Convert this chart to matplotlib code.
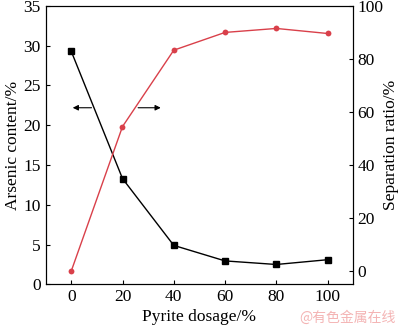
import matplotlib
matplotlib.use('Agg')
import matplotlib.pyplot as plt

plt.rcParams['font.family'] = ['Liberation Serif', 'DejaVu Serif']
plt.rcParams['font.size'] = 12.5

# 数据
dosage = [0, 20, 40, 60, 80, 100]
arsenic = [29.3, 13.3, 4.9, 2.95, 2.5, 3.1]
separation = [0.0, 54.5, 83.3, 90.0, 91.5, 89.6]

fig = plt.figure(figsize=(4.0, 3.28), dpi=100)
ax = fig.add_axes([0.114, 0.133, 0.769, 0.849])
ax2 = ax.twinx()

ax.plot(dosage, arsenic, color='black', lw=1.0, marker='s', ms=4.2, zorder=3)
ax2.plot(dosage, separation, color='#d9404a', lw=1.0, marker='o', ms=4.2,
         markeredgewidth=0, zorder=3)

# 指示箭头
ax.annotate('', xy=(-0.5, 22.2), xytext=(9, 22.2),
            arrowprops=dict(arrowstyle='-|>', color='black', lw=0.8,
                            mutation_scale=8))
ax.annotate('', xy=(36, 22.2), xytext=(25, 22.2),
            arrowprops=dict(arrowstyle='-|>', color='black', lw=0.8,
                            mutation_scale=8))

ax.set_xlim(-10, 110)
ax.set_ylim(0, 35)
ax2.set_ylim(-5, 100)
ax.set_xticks(dosage)
ax.set_yticks(range(0, 36, 5))
ax2.set_yticks(range(0, 101, 20))

ax.set_xlabel('Pyrite dosage/%', labelpad=3)
ax.set_ylabel('Arsenic content/%', labelpad=2)
ax2.set_ylabel('Separation ratio/%', labelpad=0)

ax.tick_params(direction='in', length=3, width=0.8, pad=3.5)
ax2.tick_params(direction='in', length=3, width=0.8, pad=3)
for a in (ax, ax2):
    for s in a.spines.values():
        s.set_linewidth(0.8)

fig.text(0.99, 0.033, '@有色金属在线', ha='right', va='center', fontsize=10,
         color='#f4b4b4', family=['Noto Sans CJK SC', 'DejaVu Sans'])

fig.savefig('out.png', dpi=100)
